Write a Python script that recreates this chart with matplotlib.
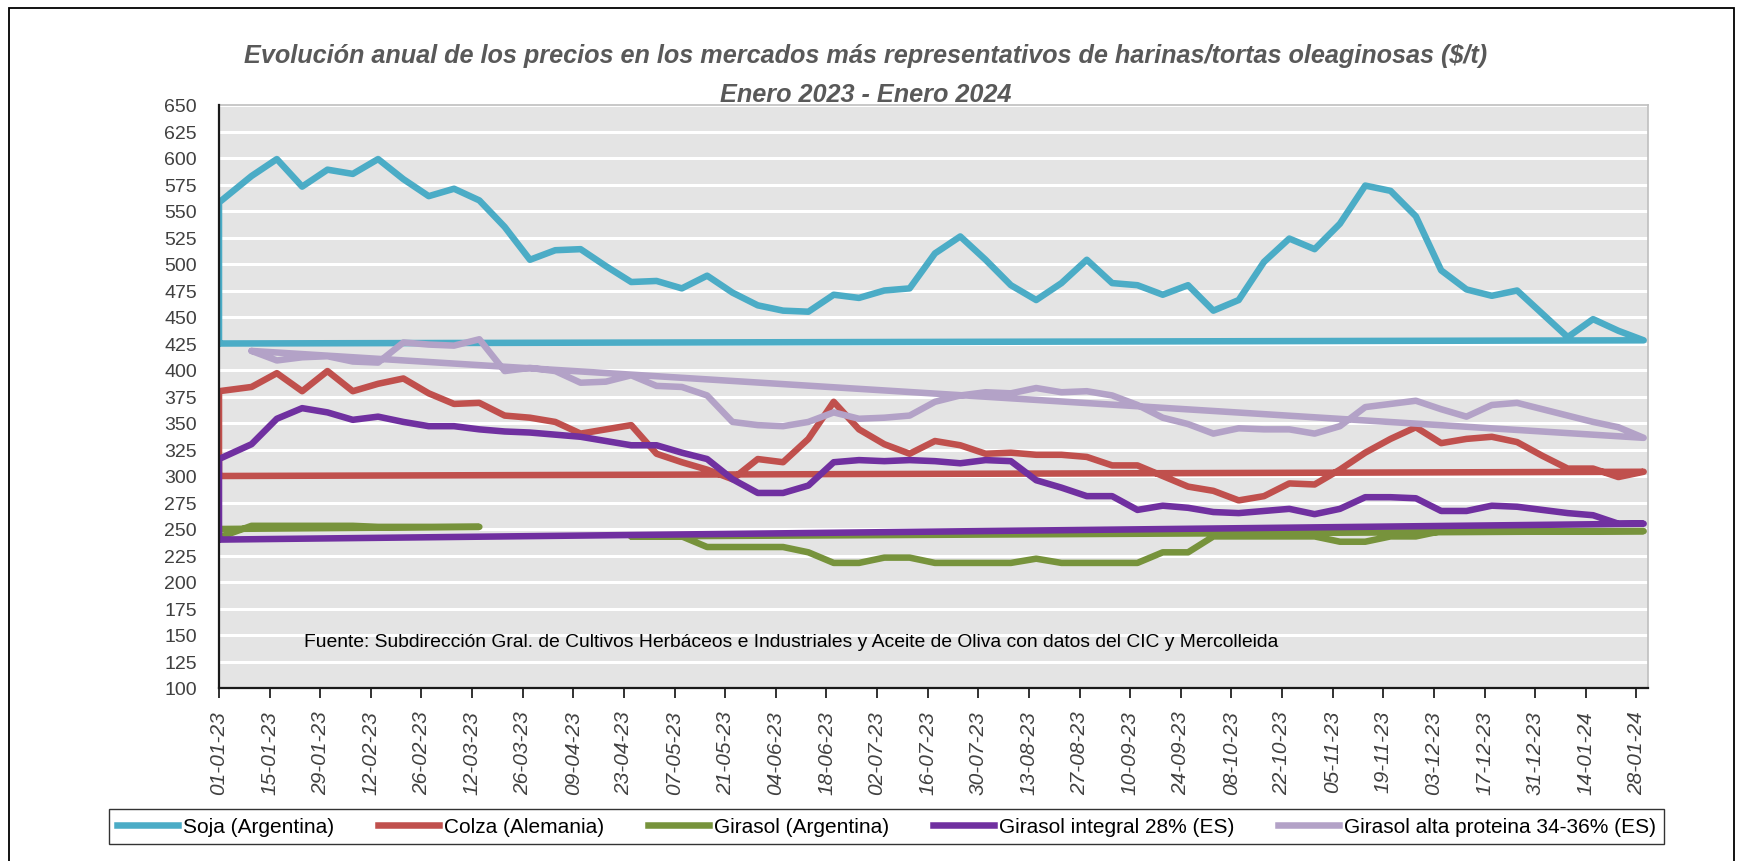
import numpy as np
import pandas as pd
import matplotlib
matplotlib.use("Agg")
import matplotlib.pyplot as plt
import matplotlib.dates as mdates
from matplotlib.patches import Rectangle
from matplotlib.lines import Line2D

plt.rcParams['font.family'] = ['Liberation Sans', 'DejaVu Sans']

# ---------------- data ----------------
first_date = "2023-01-01"
weekly_start = "2023-01-10"
weekly_end = "2024-01-30"

tick_labels = ["01-01-23", "15-01-23", "29-01-23", "12-02-23", "26-02-23", "12-03-23",
               "26-03-23", "09-04-23", "23-04-23", "07-05-23", "21-05-23", "04-06-23",
               "18-06-23", "02-07-23", "16-07-23", "30-07-23", "13-08-23", "27-08-23",
               "10-09-23", "24-09-23", "08-10-23", "22-10-23", "05-11-23", "19-11-23",
               "03-12-23", "17-12-23", "31-12-23", "14-01-24", "28-01-24"]

series_names = ["Soja (Argentina)", "Colza (Alemania)", "Girasol (Argentina)",
                "Girasol integral 28% (ES)", "Girasol alta proteina 34-36% (ES)"]

soja = [558, 583, 599, 573, 589, 585, 599, 580, 564, 571, 560, 535, 504, 513, 514, 498,
        483, 484, 477, 489, 473, 461, 456, 455, 471, 468, 475, 477, 510, 526, 504, 480,
        466, 482, 504, 482, 480, 471, 480, 456, 466, 502, 524, 514, 538, 574, 569, 545,
        494, 476, 470, 475, 453, 431, 448, 437, 428]

colza = [380, 384, 397, 380, 399, 380, 387, 392, 378, 368, 369, 357, 355, 351, 340, 344,
         348, 321, 313, 306, 297, 316, 313, 335, 370, 344, 330, 321, 333, 329, 321, 322,
         320, 320, 318, 310, 310, 300, 290, 286, 277, 281, 293, 292, 306, 322, 335, 346,
         331, 335, 337, 332, 319, 307, 307, 299, 304]

girasol_arg = [242, 253, 253, 253, 253, 253, 252, 252, 252, 252, 252, None, None, None, None, None,
               243, 243, 243, 233, 233, 233, 233, 228, 218, 218, 223, 223, 218, 218, 218, 218,
               222, 218, 218, 218, 218, 228, 228, 243, 243, 243, 243, 243, 238, 238, 243, 243,
               248, 248, 248, 248, 248, 248, 248, 248, 248]

girasol_int = [316, 330, 354, 364, 360, 353, 356, 351, 347, 347, 344, 342, 341, 339, 337, 333,
               329, 329, 322, 316, 297, 284, 284, 291, 313, 315, 314, 315, 314, 312, 315, 314,
               296, 289, 281, 281, 268, 272, 270, 266, 265, 267, 269, 264, 269, 280, 280, 279,
               267, 267, 272, 271, 268, 265, 263, 255, 255]

girasol_alta = [None, 418, 409, 412, 413, 408, 407, 426, 424, 423, 429, 399, 402, 399, 388, 389,
                395, 385, 384, 376, 351, 348, 347, 351, 360, 354, 355, 357, 370, 376, 379, 378,
                383, 379, 380, 376, 367, 355, 349, 340, 345, 344, 344, 340, 347, 365, 368, 371,
                363, 356, 367, 369, 363, 357, 351, 346, 336]

# value the chart's line returns to at the first date (closing segment)
return_values = [425, 300, 250, 240, None]

colors = ["#4bacc6", "#c0504d", "#77933c", "#7030a0", "#b3a2c7"]

# ---------------- figure ----------------
W, H = 1743, 862
fig = plt.figure(figsize=(W / 100, H / 100), dpi=100)
fig.patch.set_facecolor("white")

ax_l, ax_r, ax_t, ax_b = 219, 1648, 106, 689
ax = fig.add_axes([ax_l / W, 1 - ax_b / H, (ax_r - ax_l) / W, (ax_b - ax_t) / H])
ax.set_facecolor("#e4e4e4")

dates = [pd.Timestamp(first_date)] + list(pd.date_range(weekly_start, weekly_end, freq="7D"))
xs = mdates.date2num(dates)


def build_path(xv, vals, ret):
    segs, cur = [], []
    for xi, v in zip(xv, vals):
        if v is None:
            if cur:
                segs.append(cur)
                cur = []
        else:
            cur.append((xi, v))
    if cur:
        segs.append(cur)
    px, py = [], []
    for i, seg in enumerate(segs):
        sx = [p[0] for p in seg]
        sy = [p[1] for p in seg]
        if i == 0 and ret is not None:
            sx = [sx[0]] + sx + [sx[0]]
            sy = [ret] + sy + [ret]
        else:
            sx = sx + [sx[0]]
            sy = sy + [sy[0]]
        px += sx + [np.nan]
        py += sy + [np.nan]
    return px, py


all_series = [soja, colza, girasol_arg, girasol_int, girasol_alta]
LW = 4.7
for i, (vals, ret, c) in enumerate(zip(all_series, return_values, colors)):
    px, py = build_path(xs, vals, ret)
    ax.plot(px, py, color=c, lw=LW, solid_joinstyle="round", solid_capstyle="round",
            zorder=3 + i)

# axes
x0 = mdates.date2num(pd.Timestamp(first_date))
ax.set_xlim(x0, x0 + 395.2)
ax.set_ylim(100, 650)
ax.set_yticks(np.arange(100, 651, 25))
tick_pos = mdates.date2num(pd.to_datetime(tick_labels, format="%d-%m-%y"))
ax.set_xticks(tick_pos)
ax.set_xticklabels(tick_labels, rotation=90, fontsize=15, style="italic", color="#404040")
ax.tick_params(axis="y", length=0, pad=16, labelsize=14, labelcolor="#404040")
ax.tick_params(axis="x", length=7, width=1.3, color="#222222", pad=9, direction="out")
ax.yaxis.grid(True, color="white", lw=2.2)
ax.xaxis.grid(False)
ax.set_axisbelow(True)
for s in ["top", "right"]:
    ax.spines[s].set_color("#bfbfbf")
    ax.spines[s].set_linewidth(1.2)
for s in ["left", "bottom"]:
    ax.spines[s].set_color("#1a1a1a")
    ax.spines[s].set_linewidth(1.6)
    ax.spines[s].set_zorder(10)

# source note
src = ax.text((303.5 - ax_l) / (ax_r - ax_l), 144,
              "Fuente: Subdirección Gral. de Cultivos Herbáceos e Industriales y Aceite de Oliva con datos del CIC y Mercolleida",
              transform=ax.get_yaxis_transform(), ha="left", va="center", fontsize=13, color="black",
              zorder=20)

# titles
t1 = fig.text(866 / W, 1 - 55.5 / H,
              "Evolución anual de los precios en los mercados más representativos de harinas/tortas oleaginosas ($/t)",
              ha="center", va="center", fontsize=17, fontweight="bold", style="italic", color="#595959")
t2 = fig.text(866 / W, 1 - 94.5 / H, "Enero 2023 - Enero 2024",
              ha="center", va="center", fontsize=17, fontweight="bold", style="italic", color="#595959")

# legend
handles = [Line2D([0], [0], color=c, lw=LW) for c in colors]
leg = fig.legend(handles, series_names, loc="center", bbox_to_anchor=(886.5 / W, 1 - 827.5 / H),
                 ncol=5, frameon=True, fancybox=False, fontsize=15, handlelength=2.95,
                 handletextpad=0.22, columnspacing=2.1, borderpad=0.4, borderaxespad=0)
leg.get_frame().set_edgecolor("black")
leg.get_frame().set_linewidth(1.0)

# outer border
fig.patches.append(Rectangle((9 / W, -0.2), (1734 - 9) / W, (H - 9) / H + 0.2,
                             transform=fig.transFigure, fill=False, ec="black", lw=1.3))

# fit text widths to the reference
fig.canvas.draw()
r = fig.canvas.get_renderer()


def fit(t, target):
    bb = t.get_window_extent(renderer=r)
    t.set_fontsize(t.get_fontsize() * target / bb.width)


fit(t1, 1247)
t2.set_fontsize(t1.get_fontsize())
fit(src, 973)

fig.savefig("out.png", dpi=100)
